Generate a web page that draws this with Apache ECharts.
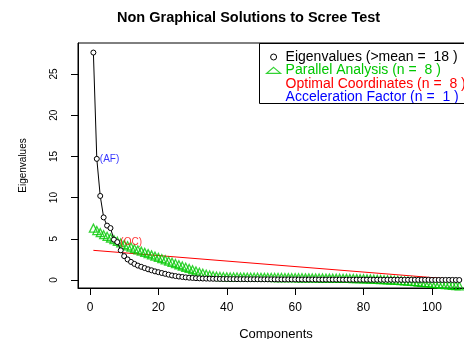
<!DOCTYPE html>
<html>
<head>
<meta charset="utf-8">
<script src="https://cdn.jsdelivr.net/npm/echarts@6/dist/echarts.min.js"></script>
<style>
  html, body { margin: 0; padding: 0; background: #fff; }
  #chart { width: 464px; height: 339px; }
</style>
</head>
<body>
<div id="chart"></div>
<script>
// eigenvalues of the 108 components
const eigenvalues = [
  27.6, 14.7, 10.2, 7.6, 6.6, 6.3, 4.9, 4.6, 3.6, 2.9,
  2.5, 2.2, 1.95, 1.75, 1.6, 1.45, 1.3, 1.18, 1.05, 0.95,
  0.85, 0.75, 0.65, 0.55, 0.48, 0.42, 0.37, 0.32, 0.28, 0.25,
  0.22, 0.2, 0.18, 0.17, 0.16, 0.15, 0.14, 0.13, 0.12, 0.12,
  0.11, 0.11, 0.1, 0.1, 0.1, 0.09, 0.09, 0.09, 0.09, 0.08,
  0.08, 0.08, 0.08, 0.08, 0.07, 0.07, 0.07, 0.07, 0.07, 0.07,
  0.06, 0.06, 0.06, 0.06, 0.06, 0.06, 0.05, 0.05, 0.05, 0.05,
  0.05, 0.05, 0.05, 0.04, 0.04, 0.04, 0.04, 0.04, 0.04, 0.04,
  0.04, 0.03, 0.03, 0.03, 0.03, 0.03, 0.03, 0.03, 0.03, 0.03,
  0.02, 0.02, 0.02, 0.02, 0.02, 0.02, 0.02, 0.02, 0.02, 0.01,
  0.01, 0.01, 0.01, 0.01, 0.01, 0.01, 0.0, 0.0
];

// parallel analysis (random data eigenvalues)
const parallel = [
  6.3, 6.0, 5.75, 5.5, 5.3, 5.1, 4.9, 4.7, 4.5, 4.3,
  4.15, 4.0, 3.8, 3.65, 3.5, 3.35, 3.2, 3.05, 2.9, 2.75,
  2.6, 2.45, 2.3, 2.15, 2.0, 1.85, 1.7, 1.55, 1.4, 1.25,
  1.1, 0.95, 0.82, 0.7, 0.6, 0.52, 0.46, 0.42, 0.4, 0.38,
  0.37, 0.36, 0.36, 0.35, 0.35, 0.34, 0.34, 0.33, 0.33, 0.32,
  0.32, 0.31, 0.31, 0.3, 0.3, 0.3, 0.29, 0.29, 0.28, 0.28,
  0.27, 0.27, 0.26, 0.26, 0.25, 0.25, 0.24, 0.24, 0.23, 0.23,
  0.22, 0.22, 0.21, 0.2, 0.2, 0.19, 0.18, 0.17, 0.16, 0.15,
  0.14, 0.12, 0.1, 0.08, 0.06, 0.04, 0.02, 0.0, -0.02, -0.04,
  -0.07, -0.1, -0.13, -0.16, -0.2, -0.24, -0.28, -0.32, -0.36, -0.4,
  -0.44, -0.48, -0.52, -0.56, -0.6, -0.64, -0.68, -0.72
];

// optimal coordinates line end points
const ocX = [1, 108];
const ocY = [3.6, 0.03];

const nOC = 8;
const nAF = 1;
const afIndex = 2;
const meanCount = 18;
const nParallel = 8;

const xTicks = [0, 20, 40, 60, 80, 100];
const yTicks = [0, 5, 10, 15, 20, 25];

const FONT = 'Liberation Sans';
const GREEN = '#00C800';

const EIG_NAME = 'Eigenvalues (>mean =  ' + meanCount + ' )';
const PA_NAME = 'Parallel Analysis (n =  ' + nParallel + ' )';
const OC_NAME = 'Optimal Coordinates (n =  ' + nOC + ' )';
const AF_NAME = 'Acceleration Factor (n =  ' + nAF + ' )';

const chart = echarts.init(document.getElementById('chart'), null, { renderer: 'canvas' });

chart.setOption({
  animation: false,
  backgroundColor: '#fff',
  textStyle: { fontFamily: FONT },
  title: {
    text: 'Non Graphical Solutions to Scree Test',
    left: 117,
    top: 10,
    padding: 0,
    textStyle: { fontSize: 14.5, fontWeight: 'bold', color: '#000', fontFamily: FONT },
  },
  // legend frame runs off the right edge, like the R legend box
  graphic: [{
    type: 'rect',
    shape: { x: 259.5, y: 43.5, width: 240, height: 60 },
    style: { fill: 'none', stroke: '#000', lineWidth: 1 },
    z: 10,
  }],
  legend: {
    left: 259,
    top: 43,
    orient: 'vertical',
    align: 'left',
    padding: [7, 0, 0, 7],
    itemGap: -0.6,
    itemWidth: 14,
    itemHeight: 6,
    selectedMode: false,
    textStyle: { fontSize: 14, lineHeight: 11.5, fontFamily: FONT },
    data: [
      { name: EIG_NAME, icon: 'circle', itemStyle: { color: 'transparent', borderColor: '#000', borderWidth: 1 }, textStyle: { color: '#000' } },
      { name: PA_NAME, icon: 'triangle', itemStyle: { color: 'transparent', borderColor: GREEN, borderWidth: 1.2 }, textStyle: { color: GREEN } },
      { name: OC_NAME, icon: 'rect', itemStyle: { color: 'transparent', borderWidth: 0 }, textStyle: { color: '#FF0000' } },
      { name: AF_NAME, icon: 'rect', itemStyle: { color: 'transparent', borderWidth: 0 }, textStyle: { color: '#0000FF' } },
    ],
  },
  grid: {
    left: 78,
    top: 43,
    right: -10,
    bottom: 51,
    outerBoundsMode: 'none',
    show: true,
    borderColor: '#000',
    borderWidth: 1,
  },
  xAxis: {
    type: 'value',
    min: -3.5,
    max: 112.3,
    name: 'Components',
    nameLocation: 'middle',
    nameGap: 40,
    nameTextStyle: { fontSize: 13, color: '#000', fontFamily: FONT },
    axisLine: { show: true, onZero: false, lineStyle: { color: '#000', width: 1 } },
    axisTick: { show: true, length: 7, customValues: xTicks, lineStyle: { color: '#000' } },
    axisLabel: { customValues: xTicks, fontSize: 12, color: '#000', margin: 14, fontFamily: FONT },
    splitLine: { show: false },
  },
  yAxis: {
    type: 'value',
    min: -0.97,
    max: 28.76,
    name: 'Eigenvalues',
    nameLocation: 'middle',
    nameGap: 50,
    nameTextStyle: { fontSize: 10, color: '#000', fontFamily: FONT },
    axisLine: { show: true, onZero: false, lineStyle: { color: '#000', width: 1 } },
    axisTick: { show: true, length: 7, customValues: yTicks, lineStyle: { color: '#000' } },
    axisLabel: { customValues: yTicks, rotate: 90, fontSize: 10, color: '#000', margin: 19, fontFamily: FONT },
    splitLine: { show: false },
  },
  series: [
    {
      name: EIG_NAME,
      type: 'line',
      data: eigenvalues.map((v, i) => [i + 1, v]),
      symbol: 'circle',
      symbolSize: 5,
      itemStyle: { color: '#fff', borderColor: '#000', borderWidth: 1 },
      lineStyle: { color: '#000', width: 1 },
      z: 4,
    },
    {
      name: PA_NAME,
      type: 'scatter',
      data: parallel.map((v, i) => [i + 1, v]),
      symbol: 'triangle',
      symbolSize: 8,
      itemStyle: { color: 'transparent', borderColor: GREEN, borderWidth: 1.3 },
      z: 3,
    },
    {
      name: OC_NAME,
      type: 'line',
      data: ocX.map((x, i) => [x, ocY[i]]),
      symbol: 'none',
      lineStyle: { color: '#FF0000', width: 1 },
      z: 2,
    },
    {
      name: OC_NAME,
      type: 'scatter',
      data: [[nOC, eigenvalues[nOC - 1]]],
      symbolSize: 0,
      label: { show: true, position: 'right', distance: 3, formatter: '(OC)', color: '#FF0000', fontSize: 10, fontFamily: FONT },
      z: 5,
    },
    {
      name: AF_NAME,
      type: 'scatter',
      data: [[afIndex, eigenvalues[afIndex - 1]]],
      symbolSize: 0,
      label: { show: true, position: 'right', distance: 3, formatter: '(AF)', color: '#0000FF', fontSize: 10, fontFamily: FONT },
      z: 5,
    },
  ],
});
</script>
</body>
</html>
